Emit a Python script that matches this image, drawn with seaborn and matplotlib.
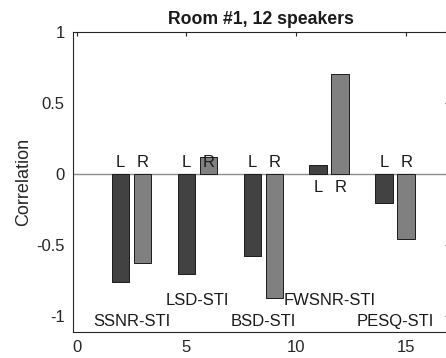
import matplotlib
matplotlib.use("Agg")
import matplotlib.pyplot as plt
import numpy as np
import pandas as pd
import seaborn as sns

# Correlation of each objective measure with STI, left / right channel
metrics = ["SSNR-STI", "LSD-STI", "BSD-STI", "FWSNR-STI", "PESQ-STI"]
left_corr = [-0.76, -0.705, -0.575, 0.067, -0.203]
right_corr = [-0.625, 0.123, -0.872, 0.705, -0.454]
channels = ["L", "R"]
x_ticks = [0, 5, 10, 15]
y_ticks = [-1, -0.5, 0, 0.5, 1]
y_tick_labels = ["-1", "-0.5", "0", "0.5", "1"]

sns.set_theme(style="white")
plt.rcParams["font.family"] = ["Liberation Sans", "DejaVu Sans"]

# bars sit at 2,3 | 5,6 | 8,9 ... (one gap between metric groups)
rows = []
for i, name in enumerate(metrics):
    for j, (ch, val) in enumerate(zip(channels, (left_corr[i], right_corr[i]))):
        rows.append({"pos": 3 * i + 2 + j, "corr": val, "channel": ch, "metric": name})
df = pd.DataFrame(rows)

fig = plt.figure(figsize=(4.46, 3.58), dpi=100)
ax = fig.add_axes([0.1637, 0.0726, 0.8430, 0.838])

ax.axhline(0, color="#8c8c8c", lw=1.0, zorder=1)
sns.barplot(data=df, x="pos", y="corr", hue="channel",
            palette={"L": "#424242", "R": "#808080"},
            native_scale=True, dodge=False, width=0.8,
            edgecolor="#1a1a1a", linewidth=0.7, legend=False, ax=ax, zorder=2)

fs = 12
# channel letters on the side of the zero line opposite to the L bar
for i in range(len(metrics)):
    side = -np.sign(left_corr[i])
    yl = 0.081 if side > 0 else -0.095
    for j, ch in enumerate(channels):
        ax.text(3 * i + 2 + j, yl, ch, ha="center", va="center",
                fontsize=fs, color="#1a1a1a", zorder=3)
    # metric names, alternating between two rows
    ym = -1.037 if i % 2 == 0 else -0.886
    ax.text(3 * i + 2.5, ym, metrics[i], ha="center", va="center",
            fontsize=fs, color="#1a1a1a", zorder=3)

ax.set_xlim(-0.16, 16.95)
ax.set_ylim(-1.11, 1.0)
ax.set_xticks(x_ticks)
ax.set_xticklabels([str(t) for t in x_ticks])
ax.set_yticks(y_ticks)
ax.set_yticklabels(y_tick_labels)
ax.set_xlabel("")
ax.set_ylabel("Correlation", fontsize=13, color="#262626", labelpad=3)
ax.set_title("Room #1, 12 speakers", fontsize=12.7, fontweight="bold",
             color="#1a1a1a", pad=6)

for sp in ax.spines.values():
    sp.set_visible(True)
    sp.set_color("#262626")
    sp.set_linewidth(0.8)
ax.tick_params(axis="both", which="both", direction="in", length=3, width=0.8,
               colors="#262626", labelsize=fs, top=True, right=True,
               labelcolor="#262626", pad=6)

fig.savefig("out.png", dpi=100)
